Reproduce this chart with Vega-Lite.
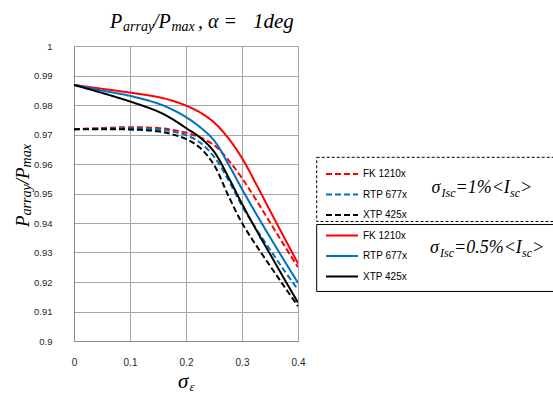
{
  "$schema": "https://vega.github.io/schema/vega-lite/v6.json",
  "width": 224,
  "height": 295,
  "autosize": {"type": "none"},
  "padding": {"left": 74, "top": 46, "right": 255, "bottom": 61},
  "background": "white",
  "config": {
    "view": {"stroke": "#a6a6a6", "strokeWidth": 1},
    "axis": {
      "grid": true, "gridColor": "#a6a6a6", "gridWidth": 1, "ticks": false,
      "domainColor": "#8c8c8c", "labelFont": "Liberation Sans", "labelFontSize": 10,
      "labelColor": "#262626", "title": null, "labelOverlap": false, "labelFlush": false
    },
    "legend": {
      "orient": "none", "legendX": 251, "legendY": 120, "padding": 0, "title": null,
      "symbolType": "stroke", "symbolSize": 1024, "symbolStrokeWidth": 2,
      "labelFont": "Liberation Sans", "labelFontSize": 10, "labelColor": "#000",
      "clipHeight": 16, "rowPadding": 4.5, "labelOffset": 4
    },
    "text": {"font": "Liberation Serif", "fontStyle": "italic", "color": "#000", "align": "left", "baseline": "alphabetic"}
  },
  "resolve": {"scale": {"x": "independent", "y": "independent"}},
  "layer": [
    {
      "data": {"values": [
        {"s": 0, "FK 1210x|1": 0.9718, "RTP 677x|1": 0.9718, "XTP 425x|1": 0.9718, "FK 1210x|2": 0.9868, "RTP 677x|2": 0.9868, "XTP 425x|2": 0.9868},
        {"s": 0.05, "FK 1210x|1": 0.9722, "RTP 677x|1": 0.972, "XTP 425x|1": 0.9718, "FK 1210x|2": 0.9855, "RTP 677x|2": 0.9849, "XTP 425x|2": 0.9841},
        {"s": 0.1, "FK 1210x|1": 0.9725, "RTP 677x|1": 0.9722, "XTP 425x|1": 0.9717, "FK 1210x|2": 0.9842, "RTP 677x|2": 0.9831, "XTP 425x|2": 0.9812},
        {"s": 0.15, "FK 1210x|1": 0.9722, "RTP 677x|1": 0.9718, "XTP 425x|1": 0.9711, "FK 1210x|2": 0.9827, "RTP 677x|2": 0.9805, "XTP 425x|2": 0.9778},
        {"s": 0.175, "FK 1210x|1": 0.9716, "RTP 677x|1": 0.9711, "XTP 425x|1": 0.9701, "FK 1210x|2": 0.9815, "RTP 677x|2": 0.9785, "XTP 425x|2": 0.9753},
        {"s": 0.2, "FK 1210x|1": 0.9706, "RTP 677x|1": 0.9698, "XTP 425x|1": 0.9685, "FK 1210x|2": 0.9798, "RTP 677x|2": 0.9759, "XTP 425x|2": 0.9722},
        {"s": 0.225, "FK 1210x|1": 0.969, "RTP 677x|1": 0.9673, "XTP 425x|1": 0.9655, "FK 1210x|2": 0.9775, "RTP 677x|2": 0.9725, "XTP 425x|2": 0.9690},
        {"s": 0.25, "FK 1210x|1": 0.9664, "RTP 677x|1": 0.9625, "XTP 425x|1": 0.9597, "FK 1210x|2": 0.9741, "RTP 677x|2": 0.968, "XTP 425x|2": 0.9642},
        {"s": 0.275, "FK 1210x|1": 0.9615, "RTP 677x|1": 0.9548, "XTP 425x|1": 0.9495, "FK 1210x|2": 0.9689, "RTP 677x|2": 0.9602, "XTP 425x|2": 0.9558},
        {"s": 0.3, "FK 1210x|1": 0.9552, "RTP 677x|1": 0.9458, "XTP 425x|1": 0.9400, "FK 1210x|2": 0.9620, "RTP 677x|2": 0.9515, "XTP 425x|2": 0.9465},
        {"s": 0.325, "FK 1210x|1": 0.9479, "RTP 677x|1": 0.9381, "XTP 425x|1": 0.9325, "FK 1210x|2": 0.9533, "RTP 677x|2": 0.9432, "XTP 425x|2": 0.9378},
        {"s": 0.35, "FK 1210x|1": 0.9402, "RTP 677x|1": 0.931, "XTP 425x|1": 0.9255, "FK 1210x|2": 0.9442, "RTP 677x|2": 0.9352, "XTP 425x|2": 0.9295},
        {"s": 0.375, "FK 1210x|1": 0.9325, "RTP 677x|1": 0.924, "XTP 425x|1": 0.9186, "FK 1210x|2": 0.9352, "RTP 677x|2": 0.9274, "XTP 425x|2": 0.9212},
        {"s": 0.4, "FK 1210x|1": 0.925, "RTP 677x|1": 0.9174, "XTP 425x|1": 0.9118, "FK 1210x|2": 0.9263, "RTP 677x|2": 0.9197, "XTP 425x|2": 0.913}
      ]},
      "transform": [{"fold": ["FK 1210x|1", "RTP 677x|1", "XTP 425x|1", "FK 1210x|2", "RTP 677x|2", "XTP 425x|2"], "as": ["series", "ratio"]}],
      "mark": {"type": "line", "interpolate": "catmull-rom", "strokeWidth": 2, "clip": true},
      "encoding": {
        "x": {"field": "s", "type": "quantitative",
              "scale": {"domain": [0, 0.4], "nice": false, "zero": false},
              "axis": {"values": [0, 0.1, 0.2, 0.3, 0.4], "format": ".1~f", "labelPadding": 16, "labelOverlap": false}},
        "y": {"field": "ratio", "type": "quantitative",
              "scale": {"domain": [0.9, 1], "nice": false, "zero": false},
              "axis": {"values": [0.9, 0.91, 0.92, 0.93, 0.94, 0.95, 0.96, 0.97, 0.98, 0.99, 1], "format": ".2~f", "labelPadding": 22, "labelFontSize": 9.5, "labelOverlap": false}},
        "color": {"field": "series", "type": "nominal",
                  "scale": {"domain": ["FK 1210x|1", "RTP 677x|1", "XTP 425x|1", "FK 1210x|2", "RTP 677x|2", "XTP 425x|2"],
                            "range": ["#ff0000", "#0070c0", "#000000", "#ff0000", "#0070c0", "#000000"]},
                  "legend": {"labelExpr": "split(datum.label, '|')[0]"}},
        "strokeDash": {"field": "series", "type": "nominal",
                  "scale": {"domain": ["FK 1210x|1", "RTP 677x|1", "XTP 425x|1", "FK 1210x|2", "RTP 677x|2", "XTP 425x|2"],
                            "range": [[6, 3], [6, 3], [6, 3], [1, 0], [1, 0], [1, 0]]},
                  "legend": {"labelExpr": "split(datum.label, '|')[0]"}}
      }
    },
    {
      "layer": [
        {
          "data": {"values": [{}]},
          "mark": {"type": "rect", "fillOpacity": 0, "stroke": "#000", "strokeWidth": 1, "strokeDash": [3, 2], "clip": false},
          "encoding": {"x": {"datum": 0.43339, "scale": {"domain": [0, 0.4], "nice": false, "zero": false}, "axis": null}, "x2": {"datum": 0.9}, "y": {"datum": 0.96227, "scale": {"domain": [0.9, 1], "nice": false, "zero": false}, "axis": null}, "y2": {"datum": 0.94051}}
        },
        {
          "data": {"values": [{}]},
          "mark": {"type": "rect", "fillOpacity": 0, "stroke": "#000", "strokeWidth": 1, "clip": false},
          "encoding": {"x": {"datum": 0.43339, "scale": {"domain": [0, 0.4], "nice": false, "zero": false}, "axis": null}, "x2": {"datum": 0.9}, "y": {"datum": 0.9395, "scale": {"domain": [0.9, 1], "nice": false, "zero": false}, "axis": null}, "y2": {"datum": 0.91678}}
        },
        {"data": {"values": [{}]}, "mark": {"type": "text", "fontSize": 20}, "encoding": {"x": {"datum": 0.06429, "axis": null}, "y": {"datum": 1.00627, "axis": null}, "text": {"value": "P"}}},
        {"data": {"values": [{}]}, "mark": {"type": "text", "fontSize": 14}, "encoding": {"x": {"datum": 0.0875, "axis": null}, "y": {"datum": 1.00492, "axis": null}, "text": {"value": "array"}}},
        {"data": {"values": [{}]}, "mark": {"type": "text", "fontSize": 20}, "encoding": {"x": {"datum": 0.14107, "axis": null}, "y": {"datum": 1.00627, "axis": null}, "text": {"value": "/P"}}},
        {"data": {"values": [{}]}, "mark": {"type": "text", "fontSize": 14}, "encoding": {"x": {"datum": 0.17411, "axis": null}, "y": {"datum": 1.00492, "axis": null}, "text": {"value": "max"}}},
        {"data": {"values": [{}]}, "mark": {"type": "text", "fontSize": 20}, "encoding": {"x": {"datum": 0.22143, "axis": null}, "y": {"datum": 1.00627, "axis": null}, "text": {"value": ", α ="}}},
        {"data": {"values": [{}]}, "mark": {"type": "text", "fontSize": 21}, "encoding": {"x": {"datum": 0.31964, "axis": null}, "y": {"datum": 1.00627, "axis": null}, "text": {"value": "1deg"}}},

        {"data": {"values": [{}]}, "mark": {"type": "text", "fontSize": 19, "angle": 270}, "encoding": {"x": {"datum": -0.08125, "axis": null}, "y": {"datum": 0.93864, "axis": null}, "text": {"value": "P"}}},
        {"data": {"values": [{}]}, "mark": {"type": "text", "fontSize": 14, "angle": 270}, "encoding": {"x": {"datum": -0.0759, "axis": null}, "y": {"datum": 0.94258, "axis": null}, "text": {"value": "array"}}},
        {"data": {"values": [{}]}, "mark": {"type": "text", "fontSize": 19, "angle": 270}, "encoding": {"x": {"datum": -0.08125, "axis": null}, "y": {"datum": 0.95312, "axis": null}, "text": {"value": "/P"}}},
        {"data": {"values": [{}]}, "mark": {"type": "text", "fontSize": 14, "angle": 270}, "encoding": {"x": {"datum": -0.0759, "axis": null}, "y": {"datum": 0.95885, "axis": null}, "text": {"value": "max"}}},

        {"data": {"values": [{}]}, "mark": {"type": "text", "fontSize": 21}, "encoding": {"x": {"datum": 0.18571, "axis": null}, "y": {"datum": 0.88407, "axis": null}, "text": {"value": "σ"}}},
        {"data": {"values": [{}]}, "mark": {"type": "text", "fontSize": 13}, "encoding": {"x": {"datum": 0.20625, "axis": null}, "y": {"datum": 0.88305, "axis": null}, "text": {"value": "ε"}}},

        {"data": {"values": [{}]}, "mark": {"type": "text", "fontSize": 18}, "encoding": {"x": {"datum": 0.63839, "axis": null}, "y": {"datum": 0.95007, "axis": null}, "text": {"value": "σ"}}},
        {"data": {"values": [{}]}, "mark": {"type": "text", "fontSize": 12}, "encoding": {"x": {"datum": 0.65625, "axis": null}, "y": {"datum": 0.94892, "axis": null}, "text": {"value": "Isc"}}},
        {"data": {"values": [{}]}, "mark": {"type": "text", "fontSize": 18}, "encoding": {"x": {"datum": 0.68125, "axis": null}, "y": {"datum": 0.95007, "axis": null}, "text": {"value": "=1%<I"}}},
        {"data": {"values": [{}]}, "mark": {"type": "text", "fontSize": 12}, "encoding": {"x": {"datum": 0.77857, "axis": null}, "y": {"datum": 0.94892, "axis": null}, "text": {"value": "sc"}}},
        {"data": {"values": [{}]}, "mark": {"type": "text", "fontSize": 18}, "encoding": {"x": {"datum": 0.79643, "axis": null}, "y": {"datum": 0.95007, "axis": null}, "text": {"value": ">"}}},

        {"data": {"values": [{}]}, "mark": {"type": "text", "fontSize": 18}, "encoding": {"x": {"datum": 0.63571, "axis": null}, "y": {"datum": 0.92973, "axis": null}, "text": {"value": "σ"}}},
        {"data": {"values": [{}]}, "mark": {"type": "text", "fontSize": 12}, "encoding": {"x": {"datum": 0.65357, "axis": null}, "y": {"datum": 0.92858, "axis": null}, "text": {"value": "Isc"}}},
        {"data": {"values": [{}]}, "mark": {"type": "text", "fontSize": 18}, "encoding": {"x": {"datum": 0.67857, "axis": null}, "y": {"datum": 0.92973, "axis": null}, "text": {"value": "=0.5%<I"}}},
        {"data": {"values": [{}]}, "mark": {"type": "text", "fontSize": 12}, "encoding": {"x": {"datum": 0.79999, "axis": null}, "y": {"datum": 0.92858, "axis": null}, "text": {"value": "sc"}}},
        {"data": {"values": [{}]}, "mark": {"type": "text", "fontSize": 18}, "encoding": {"x": {"datum": 0.81786, "axis": null}, "y": {"datum": 0.92973, "axis": null}, "text": {"value": ">"}}}
      ]
    }
  ]
}
